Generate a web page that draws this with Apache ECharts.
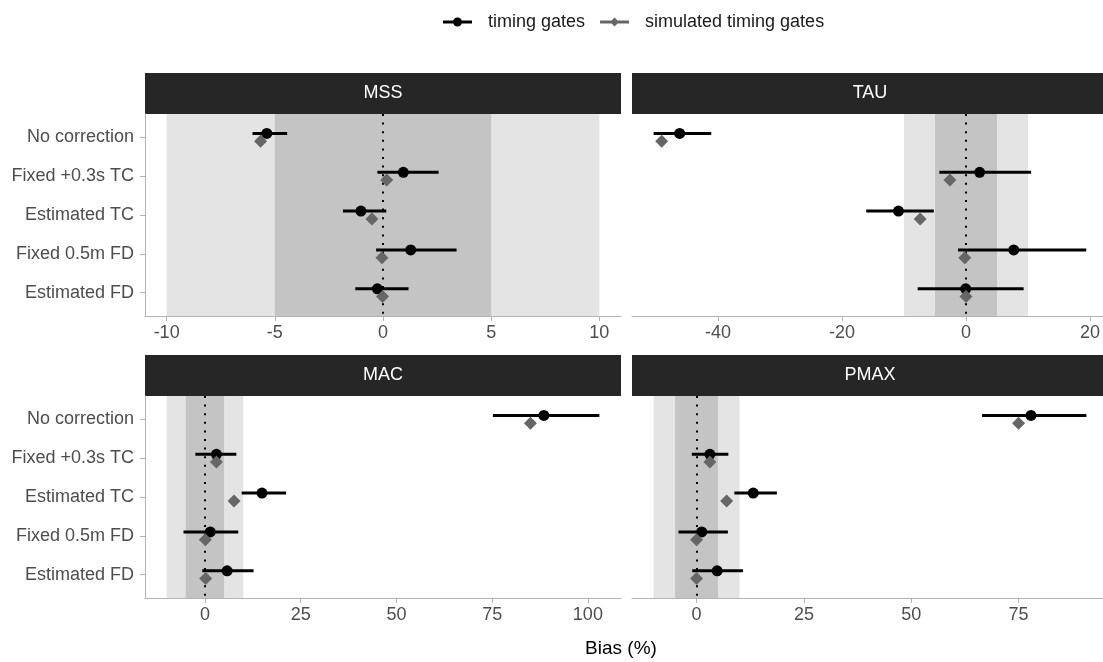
<!DOCTYPE html>
<html>
<head>
<meta charset="utf-8">
<script src="https://cdn.jsdelivr.net/npm/echarts@6/dist/echarts.min.js"></script>
<style>
  html, body { margin: 0; padding: 0; background: #fff; }
  #chart { width: 1103px; height: 662px; }
</style>
</head>
<body>
<div id="chart"></div>
<script>
// Correction methods, listed top to bottom
const categories = ['No correction', 'Fixed +0.3s TC', 'Estimated TC', 'Fixed 0.5m FD', 'Estimated FD'];
const panelTitles = ['MSS', 'TAU', 'MAC', 'PMAX'];

// Bias (%) from timing gates: estimate, lower and upper interval limits
const mssGates = [-5.37, 0.94, -1.02, 1.28, -0.26];
const mssLow   = [-6.03, -0.26, -1.85, -0.32, -1.28];
const mssHigh  = [-4.43, 2.57, 0.15, 3.40, 1.18];
const mssSim   = [-5.66, 0.17, -0.51, -0.05, -0.02];

const tauGates = [-46.2, 2.2, -10.9, 7.7, -0.05];
const tauLow   = [-50.4, -4.3, -16.1, -1.3, -7.8];
const tauHigh  = [-41.1, 10.5, -5.2, 19.4, 9.3];
const tauSim   = [-49.1, -2.6, -7.4, -0.2, 0.0];

const macGates = [88.5, 3.0, 14.9, 1.4, 5.8];
const macLow   = [75.2, -2.5, 9.6, -5.6, -0.7];
const macHigh  = [103.0, 8.2, 21.2, 8.7, 12.7];
const macSim   = [85.0, 3.0, 7.6, 0.1, 0.2];

const pmaxGates = [77.9, 3.1, 13.2, 1.2, 4.8];
const pmaxLow   = [66.5, -1.1, 8.8, -4.2, -1.0];
const pmaxHigh  = [90.8, 7.4, 18.7, 7.3, 10.8];
const pmaxSim   = [75.0, 3.1, 7.0, 0.0, 0.0];

// Tick labels per panel
const mssTicks  = [-10, -5, 0, 5, 10];
const tauTicks  = [-40, -20, 0, 20];
const macTicks  = [0, 25, 50, 75, 100];
const pmaxTicks = [0, 25, 50, 75];

// Acceptance bands
const outerBand = [-10, 10];
const innerBand = [-5, 5];

const panels = [
  { title: panelTitles[0], gates: mssGates,  low: mssLow,  high: mssHigh,  sim: mssSim,  ticks: mssTicks },
  { title: panelTitles[1], gates: tauGates,  low: tauLow,  high: tauHigh,  sim: tauSim,  ticks: tauTicks },
  { title: panelTitles[2], gates: macGates,  low: macLow,  high: macHigh,  sim: macSim,  ticks: macTicks },
  { title: panelTitles[3], gates: pmaxGates, low: pmaxLow, high: pmaxHigh, sim: pmaxSim, ticks: pmaxTicks }
];

// Facet layout (2 x 2); the right column runs past the page edge,
// so its visible part is drawn with a proportionally trimmed scale.
const PANEL_W = 476, PANEL_H = 202, STRIP_H = 41, PAGE_W = 1103;
const lefts = [145, 632, 145, 632];
const tops = [114, 114, 396, 396];

const FONT = '"Liberation Sans", Arial, Helvetica, sans-serif';
const DODGE = 0.1;

const grids = [], xAxes = [], yAxes = [], series = [], graphics = [];

panels.forEach((p, i) => {
  // x scale: data range (incl. bands) expanded by 5% on each side
  const lo = Math.min(outerBand[0], ...p.low, ...p.sim, ...p.gates);
  const hi = Math.max(outerBand[1], ...p.high, ...p.sim, ...p.gates);
  const pad = (hi - lo) * 0.05;
  const xMin = lo - pad, xMax = hi + pad;
  const visW = Math.min(PANEL_W, PAGE_W - lefts[i]);
  const visMax = xMin + (xMax - xMin) * visW / PANEL_W;

  grids.push({ left: lefts[i], top: tops[i], width: visW, height: PANEL_H, containLabel: false });

  xAxes.push({
    type: 'value', gridIndex: i, min: xMin, max: visMax,
    splitLine: { show: false },
    axisLine: { show: true, onZero: false, lineStyle: { color: '#b3b3b3', width: 1 } },
    axisTick: { show: true, length: 5, lineStyle: { color: '#b3b3b3' }, customValues: p.ticks },
    axisLabel: { show: true, customValues: p.ticks, color: '#4d4d4d', fontSize: 18, fontFamily: FONT, margin: 8 }
  });

  const showY = (i % 2 === 0);
  yAxes.push({
    type: 'value', gridIndex: i, inverse: true, min: 0.4, max: 5.6,
    splitLine: { show: false },
    axisLine: { show: showY, onZero: false, lineStyle: { color: '#b3b3b3', width: 1 } },
    axisTick: { show: showY, length: 5, lineStyle: { color: '#b3b3b3' }, customValues: [1, 2, 3, 4, 5] },
    axisLabel: {
      show: showY, customValues: [1, 2, 3, 4, 5], color: '#4d4d4d', fontSize: 18, fontFamily: FONT, margin: 11,
      formatter: v => categories[Math.round(v) - 1] || ''
    }
  });

  // Shaded bands
  series.push({
    type: 'scatter', xAxisIndex: i, yAxisIndex: i, data: [], silent: true, z: 1,
    markArea: {
      silent: true,
      data: [
        [{ xAxis: outerBand[0], itemStyle: { color: '#e4e4e4', opacity: 1 } }, { xAxis: outerBand[1] }],
        [{ xAxis: innerBand[0], itemStyle: { color: '#c4c4c4', opacity: 1 } }, { xAxis: innerBand[1] }]
      ]
    }
  });

  // Zero reference line
  series.push({
    type: 'scatter', xAxisIndex: i, yAxisIndex: i, data: [], silent: true, z: 2,
    markLine: {
      silent: true, symbol: ['none', 'none'], label: { show: false },
      lineStyle: { color: '#000', width: 2, type: [2, 6.6], cap: 'butt', opacity: 1 },
      data: [{ xAxis: 0 }]
    }
  });

  // Interval bars for timing gates
  series.push({
    type: 'custom', xAxisIndex: i, yAxisIndex: i, z: 3, silent: true,
    data: categories.map((c, k) => [p.low[k], p.high[k], k + 1 - DODGE]),
    encode: { x: [0, 1], y: 2 },
    renderItem: (params, api) => {
      const y = api.value(2);
      const a = api.coord([api.value(0), y]);
      const b = api.coord([api.value(1), y]);
      return { type: 'line', shape: { x1: a[0], y1: a[1], x2: b[0], y2: b[1] }, style: { stroke: '#000', lineWidth: 3 } };
    }
  });

  series.push({
    name: 'timing gates', type: 'scatter', xAxisIndex: i, yAxisIndex: i, z: 4, silent: true,
    symbol: 'circle', symbolSize: 11, itemStyle: { color: '#000', opacity: 1 },
    data: categories.map((c, k) => [p.gates[k], k + 1 - DODGE])
  });

  series.push({
    name: 'simulated timing gates', type: 'scatter', xAxisIndex: i, yAxisIndex: i, z: 5, silent: true,
    symbol: 'diamond', symbolSize: [13, 13], itemStyle: { color: '#666666', opacity: 1 },
    data: categories.map((c, k) => [p.sim[k], k + 1 + DODGE])
  });

  // Facet strip
  graphics.push({
    type: 'rect', left: lefts[i], top: tops[i] - STRIP_H, silent: true,
    shape: { width: visW, height: STRIP_H }, style: { fill: '#262626' }
  });
  graphics.push({
    type: 'text', x: lefts[i] + PANEL_W / 2, y: tops[i] - STRIP_H / 2, silent: true,
    style: { text: p.title, fill: '#ffffff', font: '18px ' + FONT, textAlign: 'center', textVerticalAlign: 'middle' }
  });
});

// Shared x-axis title
graphics.push({
  type: 'text', x: 621, y: 649, silent: true,
  style: { text: 'Bias (%)', fill: '#000', font: '19px ' + FONT, textAlign: 'center', textVerticalAlign: 'middle' }
});

const iconGates = 'path://M0,3H29V6H0Z M10,4.5A4.5,4.5 0 1,1 19,4.5A4.5,4.5 0 1,1 10,4.5Z';
const iconSim = 'path://M0,3H29V6H0Z M14.5,0L19,4.5L14.5,9L10,4.5Z';

const option = {
  animation: false,
  backgroundColor: '#ffffff',
  legend: {
    left: 443, top: 13, padding: 0, itemWidth: 29, itemHeight: 9, itemGap: 15,
    textStyle: { fontSize: 18, fontFamily: FONT, color: '#1a1a1a', padding: [0, 0, 0, 11] },
    data: [
      { name: 'timing gates', icon: iconGates, itemStyle: { color: '#000', opacity: 1 } },
      { name: 'simulated timing gates', icon: iconSim, itemStyle: { color: '#666666', opacity: 1 } }
    ],
    selectedMode: false
  },
  grid: grids,
  xAxis: xAxes,
  yAxis: yAxes,
  series: series,
  graphic: graphics
};

const chart = echarts.init(document.getElementById('chart'), null, { renderer: 'canvas' });
chart.setOption(option);
</script>
</body>
</html>
